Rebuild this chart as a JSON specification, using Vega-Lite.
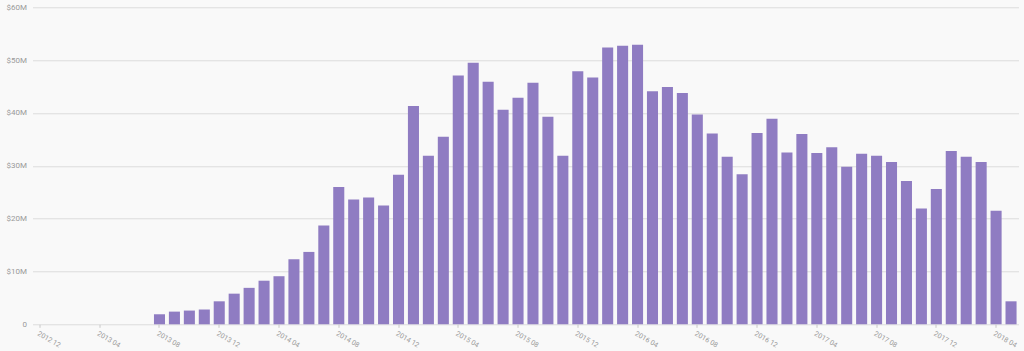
{
  "$schema": "https://vega.github.io/schema/vega-lite/v6.json",
  "autosize": "none",
  "width": 986,
  "height": 317,
  "padding": {"left": 32.5, "top": 7.3, "right": 5.5, "bottom": 26.7},
  "background": "#f9f9f9",
  "config": {
    "view": {"stroke": null},
    "font": "Roboto",
    "axis": {"labelFont": "Roboto", "labelColor": "#9a9a9a", "labelFontSize": 8}
  },
  "data": {
    "values": [
      {"month": "2012-12", "amount": 0},
      {"month": "2013-01", "amount": 0},
      {"month": "2013-02", "amount": 0},
      {"month": "2013-03", "amount": 0},
      {"month": "2013-04", "amount": 0},
      {"month": "2013-05", "amount": 0},
      {"month": "2013-06", "amount": 0},
      {"month": "2013-07", "amount": 0},
      {"month": "2013-08", "amount": 1900000},
      {"month": "2013-09", "amount": 2400000},
      {"month": "2013-10", "amount": 2600000},
      {"month": "2013-11", "amount": 2800000},
      {"month": "2013-12", "amount": 4350000},
      {"month": "2014-01", "amount": 5800000},
      {"month": "2014-02", "amount": 6900000},
      {"month": "2014-03", "amount": 8250000},
      {"month": "2014-04", "amount": 9100000},
      {"month": "2014-05", "amount": 12300000},
      {"month": "2014-06", "amount": 13700000},
      {"month": "2014-07", "amount": 18700000},
      {"month": "2014-08", "amount": 26000000},
      {"month": "2014-09", "amount": 23600000},
      {"month": "2014-10", "amount": 24000000},
      {"month": "2014-11", "amount": 22500000},
      {"month": "2014-12", "amount": 28300000},
      {"month": "2015-01", "amount": 41300000},
      {"month": "2015-02", "amount": 31900000},
      {"month": "2015-03", "amount": 35500000},
      {"month": "2015-04", "amount": 47100000},
      {"month": "2015-05", "amount": 49500000},
      {"month": "2015-06", "amount": 45900000},
      {"month": "2015-07", "amount": 40600000},
      {"month": "2015-08", "amount": 42900000},
      {"month": "2015-09", "amount": 45700000},
      {"month": "2015-10", "amount": 39300000},
      {"month": "2015-11", "amount": 31900000},
      {"month": "2015-12", "amount": 47900000},
      {"month": "2016-01", "amount": 46700000},
      {"month": "2016-02", "amount": 52400000},
      {"month": "2016-03", "amount": 52700000},
      {"month": "2016-04", "amount": 52900000},
      {"month": "2016-05", "amount": 44100000},
      {"month": "2016-06", "amount": 44900000},
      {"month": "2016-07", "amount": 43800000},
      {"month": "2016-08", "amount": 39700000},
      {"month": "2016-09", "amount": 36100000},
      {"month": "2016-10", "amount": 31700000},
      {"month": "2016-11", "amount": 28400000},
      {"month": "2016-12", "amount": 36200000},
      {"month": "2017-01", "amount": 38900000},
      {"month": "2017-02", "amount": 32500000},
      {"month": "2017-03", "amount": 36000000},
      {"month": "2017-04", "amount": 32400000},
      {"month": "2017-05", "amount": 33500000},
      {"month": "2017-06", "amount": 29800000},
      {"month": "2017-07", "amount": 32300000},
      {"month": "2017-08", "amount": 31900000},
      {"month": "2017-09", "amount": 30700000},
      {"month": "2017-10", "amount": 27100000},
      {"month": "2017-11", "amount": 21900000},
      {"month": "2017-12", "amount": 25600000},
      {"month": "2018-01", "amount": 32800000},
      {"month": "2018-02", "amount": 31700000},
      {"month": "2018-03", "amount": 30700000},
      {"month": "2018-04", "amount": 21500000},
      {"month": "2018-05", "amount": 4350000}
    ]
  },
  "mark": {"type": "bar", "color": "#8f7cc2"},
  "encoding": {
    "x": {
      "field": "month",
      "type": "ordinal",
      "sort": null,
      "title": null,
      "scale": {"paddingInner": 0.26, "paddingOuter": 0.13},
      "axis": {
        "values": ["2012-12", "2013-04", "2013-08", "2013-12", "2014-04", "2014-08", "2014-12", "2015-04", "2015-08", "2015-12", "2016-04", "2016-08", "2016-12", "2017-04", "2017-08", "2017-12", "2018-04"],
        "labelExpr": "replace(datum.value, '-', ' ')",
        "labelAngle": 30,
        "labelAlign": "left",
        "labelBaseline": "top",
        "labelPadding": 2,
        "labelFontSize": 7,
        "domain": false,
        "ticks": true,
        "tickSize": 3,
        "tickColor": "#c8c8c8",
        "grid": false
      }
    },
    "y": {
      "field": "amount",
      "type": "quantitative",
      "title": null,
      "scale": {"domain": [0, 60000000], "nice": false},
      "axis": {
        "values": [0, 10000000, 20000000, 30000000, 40000000, 50000000, 60000000],
        "labelExpr": "datum.value == 0 ? '0' : '$' + (datum.value / 1000000) + 'M'",
        "labelPadding": 6,
        "domain": false,
        "ticks": false,
        "grid": true,
        "gridColor": "#dcdcdc",
        "gridWidth": 1
      }
    }
  }
}
